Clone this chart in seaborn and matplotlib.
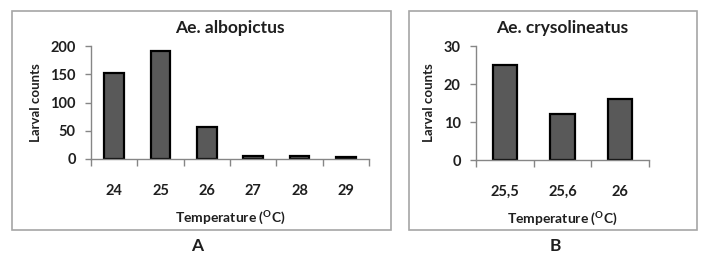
import matplotlib
matplotlib.use("Agg")
import matplotlib.pyplot as plt
import seaborn as sns
import pandas as pd
import numpy as np
from matplotlib.patches import Rectangle

# Data
temps_a = ["24", "25", "26", "27", "28", "29"]
counts_a = [153, 192, 56, 5, 5, 3]
temps_b = ["25,5", "25,6", "26"]
counts_b = [25, 12, 16]

sns.set_theme(style="white")
plt.rcParams['font.family'] = ['Lato', 'DejaVu Sans']
plt.rcParams['mathtext.fontset'] = 'custom'
plt.rcParams['mathtext.rm'] = 'Lato'
plt.rcParams['mathtext.bf'] = 'Lato:bold'

fig = plt.figure(figsize=(7.02, 2.6), dpi=100)

# panel boxes
for (x0, x1) in [(12, 391), (409, 697)]:
    fig.patches.append(Rectangle((x0 / 702, 1 - 230 / 260), (x1 - x0) / 702, (230 - 11) / 260,
                                 transform=fig.transFigure, fill=False,
                                 edgecolor="#a6a6a6", linewidth=1.2))

spine_c = "#868686"
txt_c = "#1f1f1f"

def make(ax, cats, vals, ymax, ystep, title):
    df = pd.DataFrame({"t": cats, "c": vals})
    sns.barplot(data=df, x="t", y="c", order=cats, ax=ax, color="#595959",
                edgecolor="black", linewidth=1.6, width=0.42, saturation=1)
    n = len(cats)
    ax.set_xlim(-0.5, n - 0.5)
    ax.set_ylim(0, ymax)
    ax.set_yticks(np.arange(0, ymax + 1, ystep))
    ax.set_yticklabels([str(v) for v in np.arange(0, ymax + 1, ystep)],
                       fontsize=10.5, fontweight="bold", color=txt_c)
    ax.set_xticks(range(n))
    ax.set_xticklabels(cats, fontsize=10.5, fontweight="bold", color=txt_c)
    for s in ["top", "right"]:
        ax.spines[s].set_visible(False)
    for s in ["left", "bottom"]:
        ax.spines[s].set_color(spine_c)
        ax.spines[s].set_linewidth(1.0)
    ax.tick_params(axis="y", which="major", direction="out", length=4, width=1,
                   color=spine_c, pad=7, left=True)
    ax.tick_params(axis="x", which="major", length=0, pad=18)
    ax.set_xticks(np.arange(-0.5, n, 1.0), minor=True)
    ax.tick_params(axis="x", which="minor", direction="out", length=5, width=1,
                   color=spine_c, bottom=True)
    ax.set_xlabel(r"Temperature ($^{\mathbf{O}}$C)", fontsize=10, fontweight="bold",
                  color=txt_c, labelpad=7)
    ax.set_ylabel("Larval counts", fontsize=9.5, fontweight="bold", color=txt_c, labelpad=6)
    ax.set_title(title, fontsize=12.5, fontweight="bold", color=txt_c, pad=9)
    ax.grid(False)

axA = fig.add_axes([91 / 702, 101 / 260, (369 - 91) / 702, (159 - 46) / 260])
make(axA, temps_a, counts_a, 200, 50, "Ae. albopictus")
axB = fig.add_axes([476 / 702, 100 / 260, (649 - 476) / 702, (160 - 46) / 260])
make(axB, temps_b, counts_b, 30, 10, "Ae. crysolineatus")

fig.text(197 / 702, 1 - 246 / 260, "A", ha="center", va="center", fontsize=12.5,
         fontweight="bold", color=txt_c)
fig.text(555 / 702, 1 - 246 / 260, "B", ha="center", va="center", fontsize=12.5,
         fontweight="bold", color=txt_c)

fig.savefig("out.png", dpi=100)
